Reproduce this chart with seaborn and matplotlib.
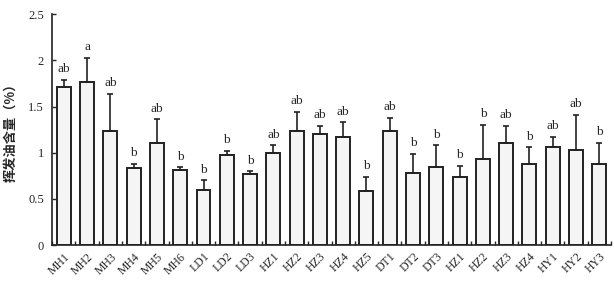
import pandas as pd
import numpy as np
import seaborn as sns
import matplotlib.pyplot as plt
from matplotlib.ticker import FixedLocator

labels = ["MH1", "MH2", "MH3", "MH4", "MH5", "MH6", "LD1", "LD2", "LD3",
          "HZ1", "HZ2", "HZ3", "HZ4", "HZ5", "DT1", "DT2", "DT3",
          "HZ1", "HZ2", "HZ3", "HZ4", "HY1", "HY2", "HY3"]
means = [1.71, 1.77, 1.23, 0.83, 1.10, 0.81, 0.60, 0.98, 0.77,
         1.00, 1.24, 1.20, 1.17, 0.59, 1.23, 0.78, 0.85,
         0.74, 0.93, 1.10, 0.88, 1.06, 1.03, 0.88]
sds = [0.08, 0.26, 0.41, 0.05, 0.26, 0.03, 0.10, 0.04, 0.03,
       0.08, 0.20, 0.09, 0.16, 0.15, 0.15, 0.21, 0.23,
       0.12, 0.37, 0.19, 0.18, 0.11, 0.38, 0.23]
letters = ["ab", "a", "ab", "b", "ab", "b", "b", "b", "b",
           "ab", "ab", "ab", "ab", "b", "ab", "b", "b",
           "b", "b", "ab", "b", "ab", "ab", "b"]

sns.set_style("ticks")
plt.rcParams["font.family"] = ["Liberation Serif", "Noto Sans CJK SC"]

df = pd.DataFrame({"id": [str(i) for i in range(len(labels))], "value": means})

fig = plt.figure(figsize=(6.14, 2.83), dpi=100)
ax = fig.add_axes([0.085, 0.134, 0.91, 0.816])
sns.barplot(data=df, x="id", y="value", color="#f5f5f5", edgecolor="#222222",
            linewidth=1.4, width=0.6, errorbar=None, ax=ax, saturation=1)

x = np.arange(len(labels))
ax.errorbar(x, means, yerr=[np.zeros(len(sds)), sds], fmt="none",
            ecolor="#222222", elinewidth=1.2, capsize=2.5, capthick=1.2)

for xi, m, s, t in zip(x, means, sds, letters):
    ax.text(xi, m + s + 0.05, t, ha="center", va="bottom", fontsize=9.5)

ax.set_xlim(-0.5, len(labels) - 0.5)
ax.set_ylim(0, 2.5)
ax.set_yticks([0, 0.5, 1, 1.5, 2, 2.5])
ax.set_yticklabels(["0", "0.5", "1", "1.5", "2", "2.5"])
ax.set_xticks(x)
ax.set_xticklabels(labels, rotation=45, ha="right", rotation_mode="anchor")
ax.xaxis.set_minor_locator(FixedLocator(np.arange(-0.5, len(labels), 1.0)))
ax.tick_params(axis="x", which="major", length=0, labelsize=8.5, pad=4)
ax.tick_params(axis="x", which="minor", direction="in", length=3, width=1)
ax.tick_params(axis="y", direction="in", length=3, width=1, labelsize=9, pad=6)
ax.set_xlabel("")
ax.set_ylabel("挥发油含量（%）", fontsize=9.5, fontweight="bold",
              family=["Noto Sans CJK SC", "DejaVu Sans"], labelpad=8)
for s in ["top", "right"]:
    ax.spines[s].set_visible(False)
for s in ["left", "bottom"]:
    ax.spines[s].set_linewidth(1.2)
    ax.spines[s].set_color("#222222")

plt.savefig("out.png", dpi=100)
